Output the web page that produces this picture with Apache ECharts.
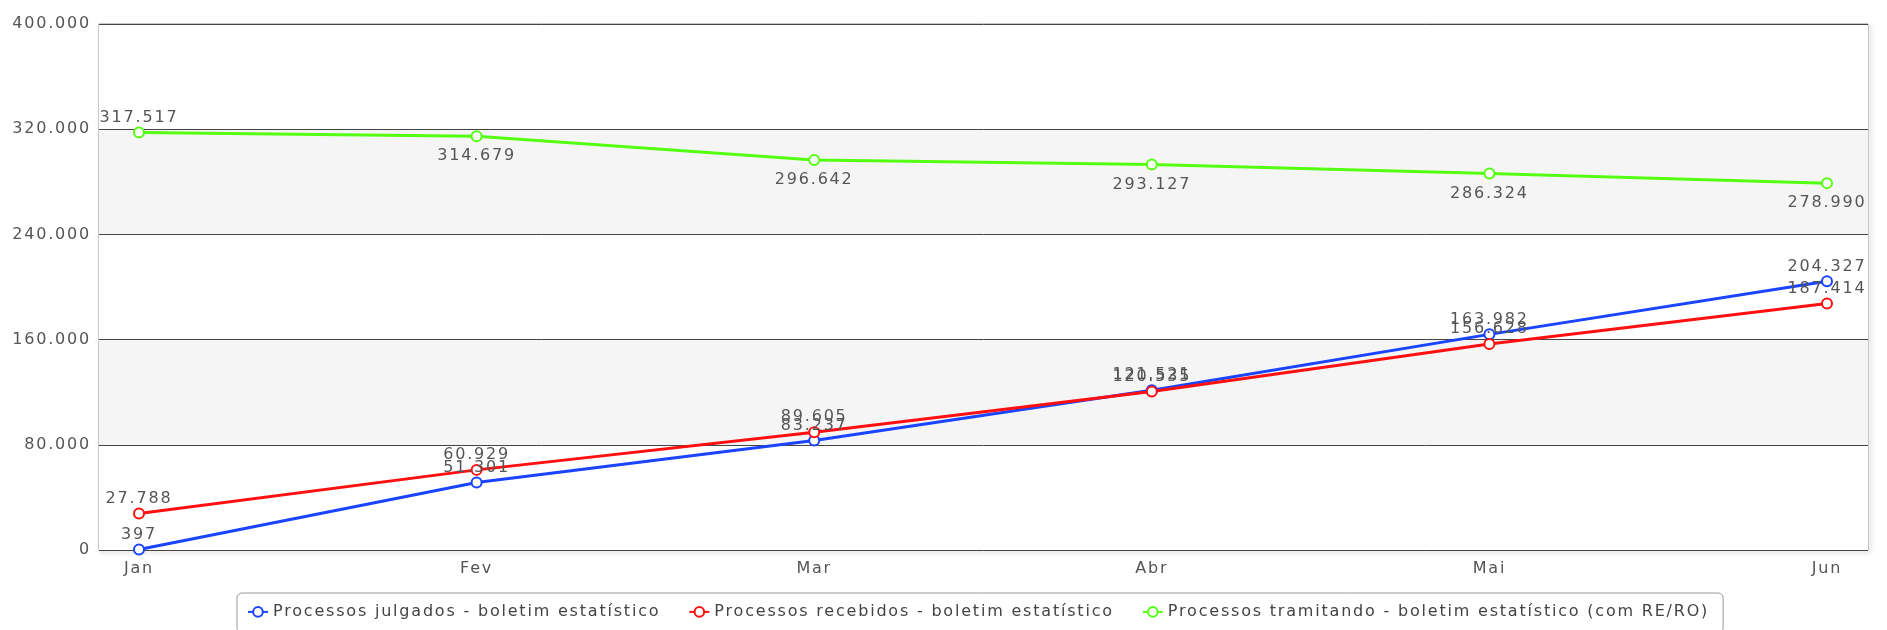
<!DOCTYPE html>
<html>
<head>
<meta charset="utf-8">
<script src="https://cdn.jsdelivr.net/npm/echarts@6/dist/echarts.min.js"></script>
<style>
  html, body { margin: 0; padding: 0; background: #fff; }
  #main { width: 1887px; height: 630px; }
</style>
</head>
<body>
<div id="main"></div>
<script>
const months = ['Jan', 'Fev', 'Mar', 'Abr', 'Mai', 'Jun'];
const julgados = [397, 51301, 83237, 121521, 163982, 204327];
const recebidos = [27788, 60929, 89605, 120535, 156628, 187414];
const tramitando = [317517, 314679, 296642, 293127, 286324, 278990];
const seriesNames = [
  'Processos julgados - boletim estatístico',
  'Processos recebidos - boletim estatístico',
  'Processos tramitando - boletim estatístico (com RE/RO)'
];

const font = 'DejaVu Sans';

// the original text is spaced out a little; apply it to drawing and measuring alike
const ctxProto = CanvasRenderingContext2D.prototype;
['fillText', 'strokeText', 'measureText'].forEach(fn => {
  const orig = ctxProto[fn];
  ctxProto[fn] = function () {
    this.letterSpacing = '1.8px';
    return orig.apply(this, arguments);
  };
});

// 317517 -> "317.517"
function fmt(v) {
  return String(Math.round(v)).replace(/\B(?=(\d{3})+(?!\d))/g, '.');
}

const chart = echarts.init(document.getElementById('main'));

function lineSeries(name, data, color, labelPos) {
  return {
    name: name,
    type: 'line',
    xAxisIndex: 1,
    yAxisIndex: 1,
    data: data.map((v, i) => {
      const pos = labelPos(i);
      return {
        value: v,
        label: { position: pos, distance: pos === 'top' ? 0 : 5 }
      };
    }),
    symbol: 'emptyCircle',
    symbolSize: 10,
    showAllSymbol: true,
    lineStyle: { color: color, width: 3 },
    itemStyle: { color: color, borderWidth: 2 },
    label: {
      show: true,
      formatter: p => fmt(p.value),
      color: '#555',
      fontFamily: font,
      fontSize: 16
    },
    animation: false
  };
}

const option = {
  backgroundColor: '#fff',
  grid: [
    {
      // frame with bands
      left: 99, right: 19, top: 24, bottom: 80,
      show: true,
      backgroundColor: 'transparent',
      borderColor: '#9a9a9a',
      borderWidth: 1,
      shadowColor: 'rgba(0,0,0,0.35)',
      shadowBlur: 4,
      shadowOffsetX: 2,
      shadowOffsetY: 2
    },
    {
      // plotted series
      left: 139, right: 60, top: 24, bottom: 80
    }
  ],
  xAxis: [
    { gridIndex: 0, type: 'category', data: months, show: false },
    {
      gridIndex: 1,
      type: 'category',
      data: months,
      boundaryGap: false,
      axisLine: { show: false },
      axisTick: { show: false },
      splitLine: { show: false },
      axisLabel: {
        color: '#555',
        fontFamily: font,
        fontSize: 16,
        margin: 10
      }
    }
  ],
  yAxis: [
    {
      gridIndex: 0,
      type: 'value',
      min: 0,
      max: 400000,
      interval: 80000,
      axisLine: { show: false },
      axisTick: { show: false },
      splitLine: { show: true, lineStyle: { color: '#444', width: 1 } },
      splitArea: { show: true, areaStyle: { color: ['#ffffff', '#f5f5f5'] } },
      axisLabel: {
        formatter: fmt,
        color: '#555',
        fontFamily: font,
        fontSize: 16,
        margin: 8
      }
    },
    {
      gridIndex: 1,
      type: 'value',
      min: 0,
      max: 400000,
      interval: 80000,
      show: false,
      splitLine: { show: false }
    }
  ],
  legend: {
    left: 237,
    top: 593,
    data: seriesNames,
    itemWidth: 20,
    itemHeight: 12,
    itemGap: 28,
    padding: [10, 14, 12, 10],
    borderColor: '#999',
    borderWidth: 1,
    borderRadius: 5,
    textStyle: { color: '#444', fontFamily: font, fontSize: 16 }
  },
  series: [
    lineSeries(seriesNames[0], julgados, '#1a44ff', () => 'top'),
    lineSeries(seriesNames[1], recebidos, '#ff1010', () => 'top'),
    lineSeries(seriesNames[2], tramitando, '#55ff11', i => (i === 0 ? 'top' : 'bottom'))
  ]
};

chart.setOption(option);
</script>
</body>
</html>
